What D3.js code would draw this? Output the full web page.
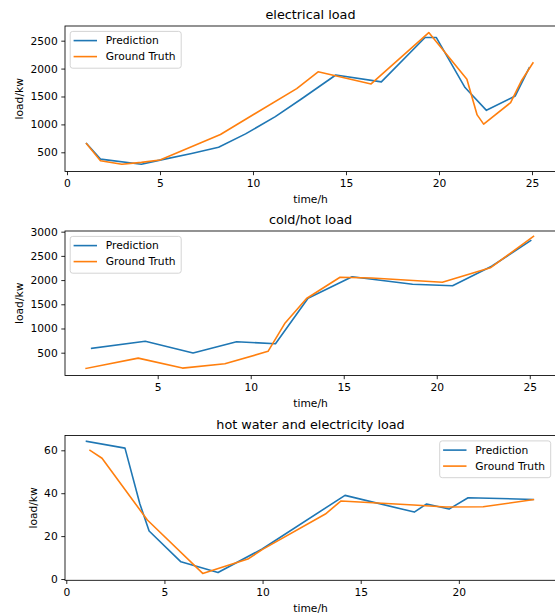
<!DOCTYPE html>
<html>
<head>
<meta charset="utf-8">
<script src="https://cdn.jsdelivr.net/npm/d3@7"></script>
<style>
  html, body { margin: 0; padding: 0; background: #fff; }
  svg text { font-family: "DejaVu Sans", sans-serif; fill: #000; }
</style>
</head>
<body>
<svg id="fig" width="555" height="616"></svg>
<script>
// ---- electrical load ----
const elecPredTime  = [1.05, 1.8, 4.0, 5.0, 6.7, 8.15, 9.6, 11.2, 12.6, 14.45, 16.9, 19.25, 19.85, 21.4, 22.55, 24.1, 24.85];
const elecPredLoad  = [655, 378, 287, 360, 480, 592, 830, 1140, 1455, 1885, 1762, 2558, 2558, 1660, 1252, 1510, 2012];
const elecTrueTime  = [1.05, 1.8, 2.95, 4.0, 5.0, 8.25, 12.35, 13.5, 16.35, 19.45, 21.5, 22.05, 22.4, 23.85, 24.45, 25.05];
const elecTrueLoad  = [655, 350, 285, 320, 362, 820, 1642, 1942, 1725, 2645, 1810, 1170, 1005, 1390, 1792, 2102];

// ---- cold/hot load ----
const coldPredTime  = [1.45, 4.33, 6.9, 9.24, 11.33, 13.08, 15.45, 18.7, 20.85, 22.95, 25.05];
const coldPredLoad  = [590, 738, 493, 725, 686, 1625, 2068, 1915, 1882, 2285, 2815];
const coldTrueTime  = [1.15, 3.95, 6.33, 8.61, 10.93, 11.85, 13.0, 14.8, 16.5, 20.3, 22.88, 25.2];
const coldTrueLoad  = [175, 388, 182, 272, 528, 1115, 1619, 2058, 2042, 1955, 2254, 2905];

// ---- hot water and electricity load ----
const waterPredTime = [1.03, 2.99, 3.75, 4.22, 5.84, 7.73, 9.98, 14.2, 17.73, 18.36, 19.5, 20.47, 23.77];
const waterPredLoad = [64.2, 61.0, 35.0, 22.4, 8.0, 3.0, 14.0, 39.0, 31.2, 35.0, 32.6, 37.9, 37.1];
const waterTrueTime = [1.21, 1.82, 4.13, 6.95, 7.7, 9.25, 10.0, 13.2, 14.0, 17.7, 19.35, 21.24, 23.8];
const waterTrueLoad = [60.0, 56.3, 27.5, 2.6, 4.8, 9.3, 13.8, 30.3, 36.4, 34.5, 33.6, 33.7, 37.0];

const seriesNames = ["Prediction", "Ground Truth"];
const seriesColors = ["#1f77b4", "#ff7f0e"];

const panels = [
  {
    title: "electrical load",
    pred: [elecPredTime, elecPredLoad], truth: [elecTrueTime, elecTrueLoad],
    xDomain: [-0.107, 26.29], yDomain: [156, 2763],
    xTicks: [0, 5, 10, 15, 20, 25], yTicks: [500, 1000, 1500, 2000, 2500],
    top: 26, bottom: 171.5, ylabelX: 23, legend: "left"
  },
  {
    title: "cold/hot load",
    pred: [coldPredTime, coldPredLoad], truth: [coldTrueTime, coldTrueLoad],
    xDomain: [0.016, 26.41], yDomain: [29, 3014],
    xTicks: [5, 10, 15, 20, 25], yTicks: [500, 1000, 1500, 2000, 2500, 3000],
    top: 231, bottom: 375.5, ylabelX: 23, legend: "left"
  },
  {
    title: "hot water and electricity load",
    pred: [waterPredTime, waterPredLoad], truth: [waterTrueTime, waterTrueLoad],
    xDomain: [-0.066, 24.95], yDomain: [-0.6, 66.9],
    xTicks: [0, 5, 10, 15, 20], yTicks: [0, 20, 40, 60],
    top: 435.5, bottom: 580.3, ylabelX: 37, legend: "right"
  }
];

const svg = d3.select("#fig");
const left = 65, right = 556;
const fs = 10.7;
const plain = d3.format("d");

panels.forEach(p => {
  const x = d3.scaleLinear().domain(p.xDomain).range([left, right]);
  const y = d3.scaleLinear().domain(p.yDomain).range([p.bottom, p.top]);
  const g = svg.append("g");

  // axes
  const xAxis = d3.axisBottom(x).tickValues(p.xTicks).tickFormat(plain)
    .tickSize(3.7).tickPadding(4.2).tickSizeOuter(0);
  const yAxis = d3.axisLeft(y).tickValues(p.yTicks).tickFormat(plain)
    .tickSize(3.7).tickPadding(3.6).tickSizeOuter(0);
  const gx = g.append("g").attr("transform", `translate(0,${p.bottom})`).call(xAxis);
  const gy = g.append("g").attr("transform", `translate(${left},0)`).call(yAxis);
  [gx, gy].forEach(a => {
    a.select(".domain").remove();
    a.selectAll("line").attr("stroke", "#000").attr("stroke-width", 0.85);
    a.selectAll("text").attr("font-size", fs).attr("font-family", "DejaVu Sans").attr("fill", "#000");
  });

  // series lines
  const line = d3.line().x(d => x(d[0])).y(d => y(d[1]));
  [p.pred, p.truth].forEach((s, i) => {
    const pts = s[0].map((t, k) => [t, s[1][k]]);
    g.append("path").datum(pts)
      .attr("d", line)
      .attr("fill", "none")
      .attr("stroke", seriesColors[i])
      .attr("stroke-width", 1.6)
      .attr("stroke-linejoin", "round")
      .attr("stroke-linecap", "square");
  });

  // frame
  g.append("rect")
    .attr("x", left).attr("y", p.top)
    .attr("width", right - left).attr("height", p.bottom - p.top)
    .attr("fill", "none").attr("stroke", "#000").attr("stroke-width", 0.85);

  // title and axis labels
  g.append("text").attr("x", (left + right) / 2).attr("y", p.top - 6.8)
    .attr("text-anchor", "middle").attr("font-size", 12.8).text(p.title);
  g.append("text").attr("x", (left + right) / 2).attr("y", p.bottom + 31.5)
    .attr("text-anchor", "middle").attr("font-size", fs).text("time/h");
  g.append("text")
    .attr("transform", `translate(${p.ylabelX},${(p.top + p.bottom) / 2}) rotate(-90)`)
    .attr("text-anchor", "middle").attr("font-size", fs).text("load/kw");

  // legend
  const lw = 111, lh = 36.8;
  const lx = p.legend === "left" ? left + 5.2 : right - 5.3 - lw;
  const ly = p.top + 5.4;
  const lg = g.append("g").attr("transform", `translate(${lx},${ly})`);
  lg.append("rect").attr("width", lw).attr("height", lh).attr("rx", 2.5)
    .attr("fill", "#fff").attr("fill-opacity", 0.8)
    .attr("stroke", "#cccccc").attr("stroke-width", 0.85);
  seriesNames.forEach((name, i) => {
    const cy = 9.2 + i * 16;
    lg.append("line").attr("x1", 3.4).attr("x2", 26.8).attr("y1", cy).attr("y2", cy)
      .attr("stroke", seriesColors[i]).attr("stroke-width", 1.6);
    lg.append("text").attr("x", 35.6).attr("y", cy + 3.9)
      .attr("font-size", fs).text(name);
  });
});
</script>
</body>
</html>
